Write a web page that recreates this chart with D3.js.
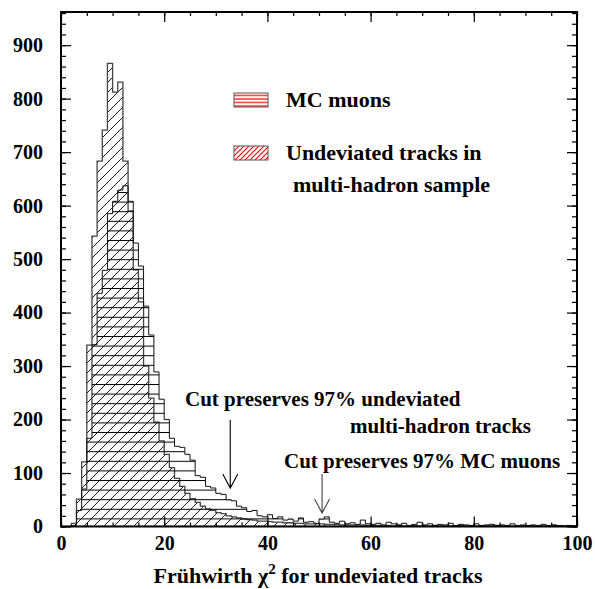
<!DOCTYPE html>
<html>
<head>
<meta charset="utf-8">
<script src="https://cdn.jsdelivr.net/npm/d3@7"></script>
<style>
  body { margin: 0; background: #fff; }
  svg text { font-family: "Liberation Serif", "Times New Roman", serif; font-weight: bold; }
</style>
</head>
<body>
<svg id="chart" width="595" height="589"></svg>
<script>
// chi2 bins of width 1, lower edges 0..99
var binEdges = d3.range(0, 101);

// MC muons (horizontal hatch)
var muons = [0, 0, 2, 30, 70, 165, 340, 436, 479, 585,
  608, 629, 637, 608, 530, 487, 412, 358, 289, 238,
  200, 165, 150, 148, 135, 124, 95, 92, 75, 72,
  62, 60, 50, 48, 38, 35, 28, 30, 20, 18,
  22, 15, 18, 12, 14, 10, 16, 8, 9, 6,
  14, 18, 8, 6, 10, 5, 7, 4, 12, 5,
  4, 6, 3, 8, 5, 3, 6, 2, 4, 8,
  3, 5, 2, 4, 3, 6, 2, 4, 3, 2,
  5, 2, 3, 4, 2, 3, 2, 5, 2, 3,
  2, 3, 2, 4, 2, 3, 2, 1, 2, 1];

// undeviated tracks in multi-hadron sample (diagonal hatch)
var hadrons = [0, 0, 6, 51, 121, 339, 543, 683, 741, 866,
  812, 831, 683, 590, 480, 420, 300, 240, 195, 160,
  135, 110, 90, 75, 62, 52, 45, 38, 33, 30,
  26, 24, 20, 18, 16, 14, 13, 12, 10, 10,
  9, 8, 8, 7, 7, 6, 6, 5, 5, 5,
  5, 4, 4, 4, 3, 3, 3, 3, 3, 2,
  2, 2, 1, 2, 1, 2, 1, 1, 2, 1,
  1, 1, 2, 1, 1, 1, 1, 2, 1, 1,
  1, 1, 1, 1, 2, 1, 1, 1, 1, 1,
  1, 1, 1, 1, 1, 2, 1, 1, 1, 1];

var yMajor = [0, 100, 200, 300, 400, 500, 600, 700, 800, 900];
var xMajor = [0, 20, 40, 60, 80, 100];

// cut positions (chi2)
var cutHadron = 32.8;
var cutMuon = 50.6;

var svg = d3.select('#chart');
var pL = 61, pR = 577, pT = 12, pB = 526.5;

var x = d3.scaleLinear().domain([0, 100]).range([pL, pR]);
var y = d3.scaleLinear().domain([0, 962]).range([pB, pT]);

var defs = svg.append('defs');
function hatch(id, color, diag) {
  var p = defs.append('pattern')
      .attr('id', id)
      .attr('patternUnits', 'userSpaceOnUse');
  if (diag) {
    p.attr('width', 10).attr('height', 10);
    p.append('path').attr('d', 'M-2,12 L12,-2 M-2,2 L2,-2 M8,12 L12,8')
      .attr('stroke', color).attr('stroke-width', 0.9);
  } else {
    p.attr('width', 10).attr('height', 9.6);
    p.append('line').attr('x1', 0).attr('x2', 10).attr('y1', 0.5).attr('y2', 0.5)
      .attr('stroke', color).attr('stroke-width', 1);
  }
}
hatch('hDiag', '#000', true);
hatch('hHor', '#000', false);
// legend swatches use finer red hatching
var lp = defs.append('pattern').attr('id', 'lHor').attr('patternUnits', 'userSpaceOnUse')
    .attr('width', 10).attr('height', 3.5);
lp.append('line').attr('x1', 0).attr('x2', 10).attr('y1', 1).attr('y2', 1)
    .attr('stroke', '#f00').attr('stroke-width', 1.2);
var ld = defs.append('pattern').attr('id', 'lDiag').attr('patternUnits', 'userSpaceOnUse')
    .attr('width', 5).attr('height', 5);
ld.append('path').attr('d', 'M-1,6 L6,-1 M-1,1 L1,-1 M4,6 L6,4')
    .attr('stroke', '#f00').attr('stroke-width', 1.1);

defs.append('clipPath').attr('id', 'plot')
  .append('rect').attr('x', pL).attr('y', pT)
  .attr('width', pR - pL).attr('height', pB - pT);

function pts(vals) {
  var p = vals.map(function(v, i) { return {x: binEdges[i], y: v}; });
  p.push({x: 100, y: vals[vals.length - 1]});
  return p;
}
var area = d3.area()
    .curve(d3.curveStepAfter)
    .x(function(d) { return x(d.x); })
    .y0(y(0))
    .y1(function(d) { return y(d.y); });

var g = svg.append('g').attr('clip-path', 'url(#plot)');
g.append('path').datum(pts(hadrons))
    .attr('d', area)
    .attr('fill', 'url(#hDiag)')
    .attr('stroke', '#444').attr('stroke-width', 1.3);
g.append('path').datum(pts(muons))
    .attr('d', area)
    .attr('fill', 'url(#hHor)')
    .attr('stroke', '#111').attr('stroke-width', 1);

// axes, ticks inward on all four sides
var yAx = svg.append('g').attr('transform', 'translate(' + pL + ',0)')
    .call(d3.axisLeft(y).tickValues(yMajor).tickSize(-10).tickPadding(18).tickFormat(d3.format('d')));
svg.append('g').attr('transform', 'translate(' + pL + ',0)')
    .call(d3.axisLeft(y).tickValues(d3.range(0, 962, 20)).tickSize(-5).tickFormat(''));
svg.append('g').attr('transform', 'translate(' + pR + ',0)')
    .call(d3.axisRight(y).tickValues(yMajor).tickSize(-10).tickFormat(''));
svg.append('g').attr('transform', 'translate(' + pR + ',0)')
    .call(d3.axisRight(y).tickValues(d3.range(0, 962, 20)).tickSize(-5).tickFormat(''));

var xAx = svg.append('g').attr('transform', 'translate(0,' + pB + ')')
    .call(d3.axisBottom(x).tickValues(xMajor).tickSize(-10).tickPadding(9).tickFormat(d3.format('d')));
svg.append('g').attr('transform', 'translate(0,' + pB + ')')
    .call(d3.axisBottom(x).tickValues(d3.range(0, 101, 5)).tickSize(-4).tickFormat(''));
svg.append('g').attr('transform', 'translate(0,' + pT + ')')
    .call(d3.axisTop(x).tickValues(xMajor).tickSize(-10).tickFormat(''));
svg.append('g').attr('transform', 'translate(0,' + pT + ')')
    .call(d3.axisTop(x).tickValues(d3.range(0, 101, 5)).tickSize(-4).tickFormat(''));

svg.selectAll('.domain').remove();
svg.selectAll('.tick line').attr('stroke', '#000').attr('stroke-width', 1.2);
svg.selectAll('.tick text').style('font-size', '20px').attr('fill', '#000')
    .style('font-family', '"Liberation Serif", serif').style('font-weight', 'bold');
xAx.selectAll('.tick text').attr('dy', '0.72em');

svg.append('rect').attr('x', pL).attr('y', pT)
    .attr('width', pR - pL).attr('height', pB - pT)
    .attr('fill', 'none').attr('stroke', '#000').attr('stroke-width', 2);

// axis title
var t = svg.append('text').attr('x', 318).attr('y', 583)
    .attr('text-anchor', 'middle').style('font-size', '22px');
t.append('tspan').text('Frühwirth ');
t.append('tspan').text('χ');
t.append('tspan').attr('dy', -9).style('font-size', '15px').text('2');
t.append('tspan').attr('dy', 9).text(' for undeviated tracks');

// legend
var leg = [
  {fill: 'url(#lHor)', y: 93, lines: ['MC muons'], dx: [286]},
  {fill: 'url(#lDiag)', y: 146, lines: ['Undeviated tracks in', 'multi-hadron sample'], dx: [286, 293]}
];
leg.forEach(function(d) {
  svg.append('rect').attr('x', 234).attr('y', d.y).attr('width', 34).attr('height', 14)
      .attr('fill', d.fill).attr('stroke', '#555').attr('stroke-width', 1);
  d.lines.forEach(function(s, i) {
    svg.append('text').attr('x', d.dx[i]).attr('y', d.y + 14 + i * 32)
        .style('font-size', '22px').text(s);
  });
});

// annotations
function note(s, xx, yy) {
  svg.append('text').attr('x', xx).attr('y', yy).style('font-size', '21px').text(s);
}
note('Cut preserves 97% undeviated', 185, 406);
note('multi-hadron tracks', 350, 433);
note('Cut preserves 97% MC muons', 284, 468);

function arrow(v, y1, y2, col) {
  var ax = x(v);
  svg.append('path')
      .attr('d', 'M' + ax + ',' + y1 + 'V' + y2 + 'M' + (ax - 7.5) + ',' + (y2 - 14) +
        'L' + ax + ',' + y2 + 'L' + (ax + 7.5) + ',' + (y2 - 14))
      .attr('fill', 'none').attr('stroke', col).attr('stroke-width', 1.1);
}
arrow(cutHadron, 420, 488, '#000');
arrow(cutMuon, 474, 513, '#444');
</script>
</body>
</html>
